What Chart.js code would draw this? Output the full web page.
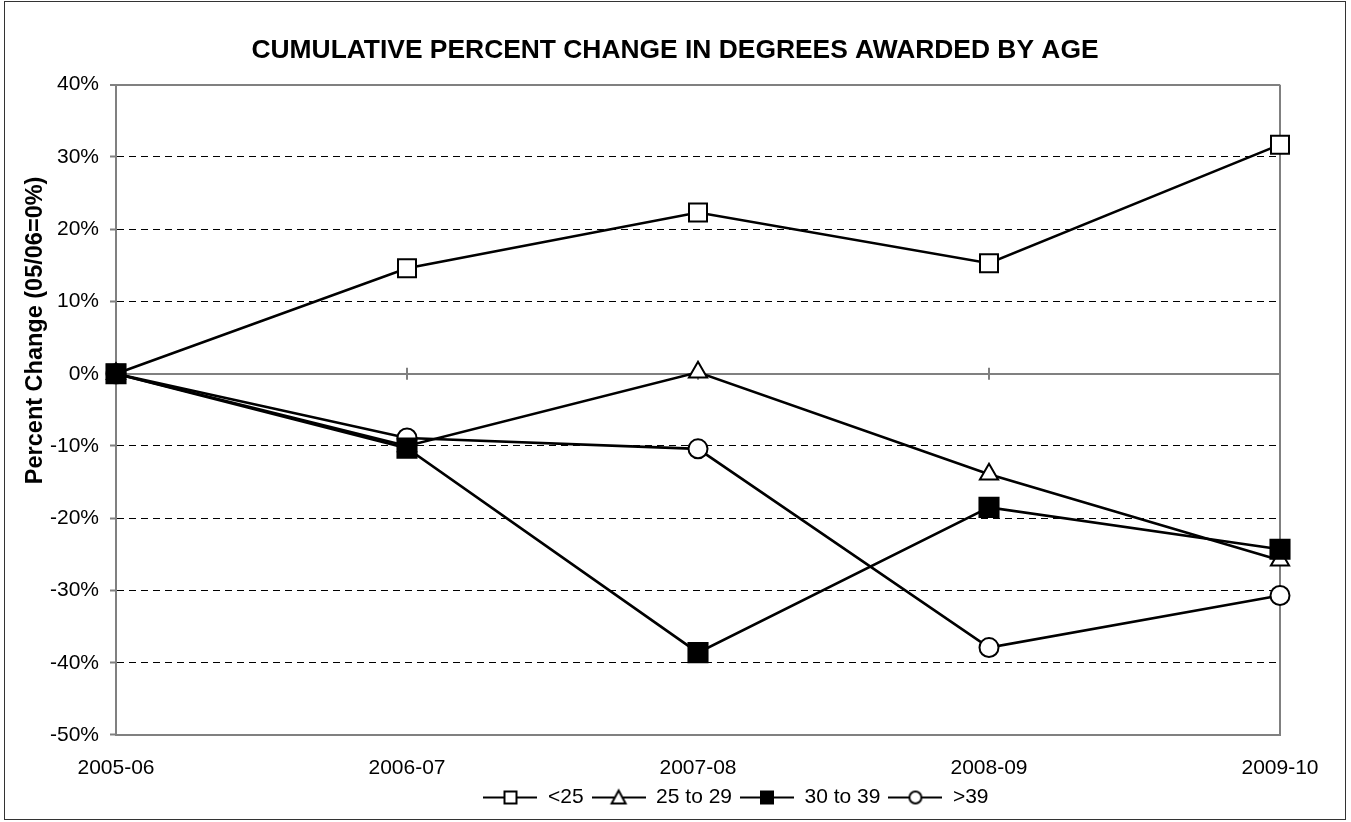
<!DOCTYPE html>
<html>
<head>
<meta charset="utf-8">
<script src="https://cdn.jsdelivr.net/npm/chart.js@4.4.1/dist/chart.umd.min.js"></script>
<style>
html,body{margin:0;padding:0;background:#fff;}
#wrap{position:relative;width:1351px;height:822px;}
#frame{position:absolute;left:4px;top:1px;width:1340px;height:817px;border:1.5px solid #333;pointer-events:none;}
canvas{position:absolute;left:0;top:0;}
</style>
</head>
<body>
<div id="wrap"><canvas id="c" width="1351" height="822"></canvas><div id="frame"></div></div>
<script>
const categories = ['2005-06', '2006-07', '2007-08', '2008-09', '2009-10'];
const under25   = [0, 14.6, 22.3, 15.3, 31.7];
const age25to29 = [0, -10.0, 0.2, -13.9, -25.8];
const age30to39 = [0, -10.3, -38.6, -18.5, -24.3];
const over39    = [0, -8.9, -10.4, -37.9, -30.7];
const seriesNames = ['<25', '25 to 29', '30 to 39', '>39'];
const yTitle = 'Percent Change (05/06=0%)';
const yMin = -50, yMax = 40, yStep = 10;

const FONT = "'Liberation Sans', Arial, sans-serif";

function legendIcon(kind) {
  const c = document.createElement('canvas');
  c.width = 54; c.height = 20;
  const g = c.getContext('2d');
  g.strokeStyle = '#000'; g.lineWidth = 2;
  g.beginPath(); g.moveTo(0, 10); g.lineTo(54, 10); g.stroke();
  if (kind === 'sq' || kind === 'sqf') {
    g.fillStyle = kind === 'sqf' ? '#000' : '#fff';
    g.fillRect(21, 4, 12, 12); g.strokeRect(21, 4, 12, 12);
  } else if (kind === 'tri') {
    g.fillStyle = '#fff';
    g.beginPath(); g.moveTo(27, 3); g.lineTo(34, 16); g.lineTo(20, 16); g.closePath(); g.fill(); g.stroke();
  } else {
    g.fillStyle = '#fff';
    g.beginPath(); g.arc(27, 10, 6, 0, Math.PI * 2); g.fill(); g.stroke();
  }
  return c;
}
const icons = [legendIcon('sq'), legendIcon('tri'), legendIcon('sqf'), legendIcon('circ')];

const extras = {
  id: 'extras',
  afterLayout(chart) {
    // legend sits right of the plot centre; title is centred on the whole frame
    const shift = 83;
    chart.legend.left += shift;
    chart.legend.right += shift;
    const tShift = 22;
    chart.titleBlock.left += tShift;
    chart.titleBlock.right += tShift;
  },
  beforeDatasetsDraw(chart) {
    const x = chart.scales.x, y = chart.scales.y, ctx = chart.ctx;
    const y0 = y.getPixelForValue(0);
    ctx.save();
    ctx.strokeStyle = '#808080'; ctx.lineWidth = 2;
    for (let i = 1; i < categories.length - 1; i++) {
      const px = x.getPixelForTick(i);
      ctx.beginPath(); ctx.moveTo(px, y0 - 6); ctx.lineTo(px, y0 + 6); ctx.stroke();
    }
    ctx.restore();
  },
  afterDraw(chart) {
    const y = chart.scales.y, ctx = chart.ctx;
    const cy = y.getPixelForValue(6);
    ctx.save();
    ctx.translate(36, cy);
    ctx.rotate(-Math.PI / 2);
    ctx.font = 'bold 23.5px ' + FONT;
    ctx.fillStyle = '#000';
    ctx.textAlign = 'center';
    ctx.textBaseline = 'middle';
    ctx.fillText(yTitle, 0, 0);
    ctx.restore();
  }
};

Chart.defaults.font.family = FONT;
Chart.defaults.color = '#000';

new Chart(document.getElementById('c'), {
  type: 'line',
  data: {
    labels: categories,
    datasets: [
      { label: seriesNames[0], data: under25, order: 3, pointStyle: 'rect', pointRadius: 12.7, pointBackgroundColor: '#fff' },
      { label: seriesNames[1], data: age25to29, order: 2, pointStyle: 'triangle', pointRadius: 10.5, pointBackgroundColor: '#fff' },
      { label: seriesNames[2], data: age30to39, order: 0, pointStyle: 'rect', pointRadius: 13.5, pointBackgroundColor: '#000' },
      { label: seriesNames[3], data: over39, order: 1, pointStyle: 'circle', pointRadius: 9.5, pointBackgroundColor: '#fff' }
    ].map(d => Object.assign({
      borderColor: '#000', borderWidth: 2.6, pointBorderColor: '#000', pointBorderWidth: 2,
      pointHoverRadius: d.pointRadius, tension: 0, fill: false
    }, d))
  },
  plugins: [extras],
  options: {
    responsive: false,
    animation: false,
    events: [],
    layout: { padding: { left: 26, right: 71, top: 30, bottom: 4 } },
    plugins: {
      tooltip: { enabled: false },
      title: {
        display: true,
        text: 'CUMULATIVE PERCENT CHANGE IN DEGREES AWARDED BY AGE',
        font: { size: 26.4, weight: 'bold', family: FONT },
        color: '#000',
        padding: { top: 5, bottom: 18 }
      },
      legend: {
        position: 'bottom',
        labels: {
          usePointStyle: true,
          pointStyleWidth: 54,
          boxHeight: 20,
          padding: 8,
          font: { size: 21, family: FONT },
          color: '#000',
          generateLabels(chart) {
            return chart.data.datasets.map((d, i) => ({
              text: d.label, datasetIndex: i, pointStyle: icons[i],
              fillStyle: '#fff', strokeStyle: '#000', lineWidth: 0, hidden: false, fontColor: '#000'
            }));
          }
        }
      }
    },
    scales: {
      x: {
        type: 'category',
        offset: false,
        afterFit(s) { s.height = 44; },
        grid: {
          drawOnChartArea: true,
          tickLength: 0,
          color: c => (c.index === categories.length - 1 ? '#808080' : 'rgba(0,0,0,0)'),
          lineWidth: 2
        },
        border: { display: true, color: '#808080', width: 2 },
        ticks: { padding: 21, font: { size: 21, family: FONT }, color: '#000', maxRotation: 0, autoSkip: false }
      },
      y: {
        min: yMin, max: yMax,
        afterFit(s) { s.width = 90; },
        title: { display: false },
        grid: {
          drawOnChartArea: true,
          tickLength: 6,
          tickColor: '#808080',
          tickWidth: 2,
          color: c => (c.tick && (c.tick.value === 0 || c.tick.value === yMax)) ? '#808080' : '#000',
          lineWidth: c => (c.tick && (c.tick.value === 0 || c.tick.value === yMax)) ? 2 : 1
        },
        border: {
          display: true, color: '#808080', width: 2,
          dash: c => (c.tick && !(c.tick.value === 0 || c.tick.value === yMax)) ? [7, 5] : []
        },
        ticks: {
          stepSize: yStep, padding: 11,
          font: { size: 21, family: FONT }, color: '#000',
          callback: v => v + '%'
        }
      }
    }
  }
});
</script>
</body>
</html>
